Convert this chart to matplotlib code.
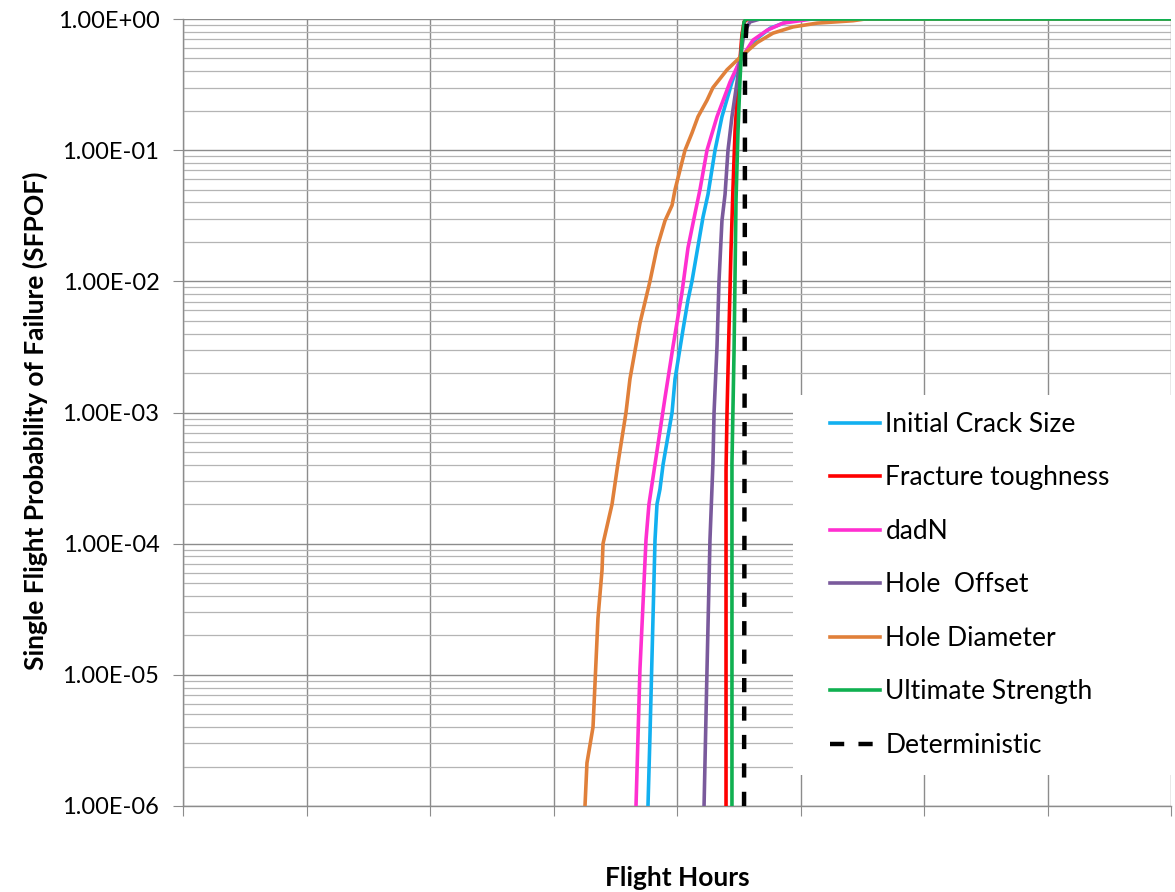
import matplotlib
matplotlib.use("Agg")
import matplotlib.pyplot as plt
from matplotlib.patches import Rectangle
from matplotlib.ticker import LogLocator, FixedLocator, NullFormatter, FuncFormatter

# ---- data (x in flight hours, y = SFPOF) ----
x_end = 8000

ics_x = [3765, 3781, 3822, 3838, 3862, 3887, 3960, 3984, 4049, 4089, 4121, 4211, 4251, 4308, 4364, 4445, 4510, 4575, 4632, 4753, 4915, 5036, 8000]
ics_y = [1e-6, 3.4e-6, 1.07e-4, 2.0e-4, 2.6e-4, 4.0e-4, 1.0e-3, 1.8e-3, 4.3e-3, 7.2e-3, 1.0e-2, 3.1e-2, 4.6e-2, 0.10, 0.18, 0.33, 0.49, 0.58, 0.69, 0.85, 0.97, 1.0, 1.0]

ft_x = [4397, 4397, 4405, 4421, 4437, 4453, 4470, 4486, 4510, 4526, 4543, 4575, 8000]
ft_y = [1e-6, 3.6e-4, 1.0e-3, 4.3e-3, 1.7e-2, 5.0e-2, 0.14, 0.24, 0.49, 0.76, 0.95, 1.0, 1.0]

dadn_x = [3668, 3700, 3749, 3773, 3814, 3903, 3968, 4040, 4089, 4146, 4186, 4243, 4324, 4429, 4486, 4526, 4615, 4729, 4858, 4996, 5093, 8000]
dadn_y = [1e-6, 1.1e-5, 1.07e-4, 2.0e-4, 3.6e-4, 1.3e-3, 3.2e-3, 8.2e-3, 1.8e-2, 3.3e-2, 5.0e-2, 0.10, 0.18, 0.33, 0.43, 0.51, 0.69, 0.82, 0.93, 0.97, 1.0, 1.0]

ho_x = [4219, 4243, 4267, 4291, 4300, 4324, 4340, 4364, 4389, 4413, 4445, 4486, 4510, 4534, 4551, 4591, 4672, 8000]
ho_y = [1e-6, 1.1e-5, 1.07e-4, 4.1e-4, 1.0e-3, 3.2e-3, 1.0e-2, 2.9e-2, 4.6e-2, 0.10, 0.18, 0.33, 0.49, 0.69, 0.82, 0.95, 1.0, 1.0]

hd_x = [3255, 3271, 3320, 3360, 3393, 3401, 3474, 3522, 3587, 3619, 3700, 3781, 3838, 3903, 3960, 3984, 4065, 4121, 4170, 4243, 4291, 4405, 4510, 4648, 4777, 4939, 5134, 5425, 5522, 8000]
hd_y = [1e-6, 2.13e-6, 4.0e-6, 2.7e-5, 6.3e-5, 1.0e-4, 2.0e-4, 4.1e-4, 1.0e-3, 1.8e-3, 4.8e-3, 1.0e-2, 1.8e-2, 2.9e-2, 3.8e-2, 5.0e-2, 0.10, 0.135, 0.18, 0.24, 0.30, 0.41, 0.51, 0.66, 0.78, 0.87, 0.93, 0.97, 1.0, 1.0]

us_x = [4445, 4445, 4462, 4478, 4494, 4510, 4526, 4543, 4559, 8000]
us_y = [1e-6, 4.1e-4, 3.0e-3, 4.2e-2, 0.14, 0.34, 0.69, 0.95, 1.0, 1.0]

det_x = [4543, 4551, 4567]
det_y = [1e-6, 0.6, 1.0]

series = [
    ("Initial Crack Size", ics_x, ics_y, "#12b0f0"),
    ("Fracture toughness", ft_x, ft_y, "#ff0000"),
    ("dadN", dadn_x, dadn_y, "#ff2fd0"),
    ("Hole  Offset", ho_x, ho_y, "#7a5a9c"),
    ("Hole Diameter", hd_x, hd_y, "#e0803a"),
    ("Ultimate Strength", us_x, us_y, "#10b050"),
]

x_ticks = [0, 1000, 2000, 3000, 4000, 5000, 6000, 7000, 8000]
y_ticks = [1e-6, 1e-5, 1e-4, 1e-3, 1e-2, 1e-1, 1e0]

# ---- figure ----
font = "Lato"
fig = plt.figure(figsize=(11.75, 8.92), dpi=100)
ax = fig.add_axes([183/1175, 86/892, 988/1175, 787/892])

for label, xs, ys, c in series:
    ax.plot(xs, ys, color=c, lw=2.6, label=label, solid_joinstyle="round", zorder=3)
ax.plot(det_x, det_y, color="black", lw=3.2, ls=(0, (3.2, 3.2)), label="Deterministic", zorder=3)

ax.set_yscale("log")
ax.set_ylim(1e-6, 1)
ax.set_xlim(0, x_end)
ax.xaxis.set_major_locator(FixedLocator(x_ticks))
ax.xaxis.set_major_formatter(NullFormatter())
ax.yaxis.set_major_locator(FixedLocator(y_ticks))
ax.yaxis.set_minor_locator(LogLocator(base=10, subs=range(2, 10)))
ax.yaxis.set_minor_formatter(NullFormatter())
ax.yaxis.set_major_formatter(FuncFormatter(lambda v, p: "%.2E" % v))

ax.grid(which="major", color="#8c8c8c", lw=1.0)
ax.grid(which="minor", axis="y", color="#b4b4b4", lw=0.9)
ax.set_axisbelow(True)

for s in ["top", "right"]:
    ax.spines[s].set_visible(False)
for s in ["left", "bottom"]:
    ax.spines[s].set_color("#8c8c8c")
    ax.spines[s].set_linewidth(1.0)

ax.tick_params(axis="both", which="major", length=7, color="#8c8c8c", direction="out")
ax.tick_params(axis="y", which="minor", length=0)
ax.tick_params(axis="y", labelsize=17, pad=10)
for t in ax.get_yticklabels():
    t.set_fontfamily(font)

ax.set_ylabel("Single Flight Probability of Failure (SFPOF)", fontsize=19, fontweight="bold",
              family=font)
ax.yaxis.set_label_coords(-0.137, 0.49)
ax.set_xlabel("Flight Hours", fontsize=19, fontweight="bold", family=font, va="center")
ax.xaxis.set_label_coords(0.5, (806 - 878) / 787)

# white legend background box
ax.add_patch(Rectangle(((793 - 183) / 988, (806 - 775) / 787), (1171 - 793) / 988, (775 - 395) / 787,
                       transform=ax.transAxes, facecolor="white", edgecolor="none", zorder=2))

leg = ax.legend(loc="upper left", bbox_to_anchor=((830 - 183) / 988, (806 - 412) / 787),
                prop={"family": font, "size": 19}, frameon=False,
                handlelength=1.9, handletextpad=0.2, labelspacing=1.08, borderpad=0,
                borderaxespad=0)
leg.set_zorder(4)

fig.savefig("out.png", dpi=100)
